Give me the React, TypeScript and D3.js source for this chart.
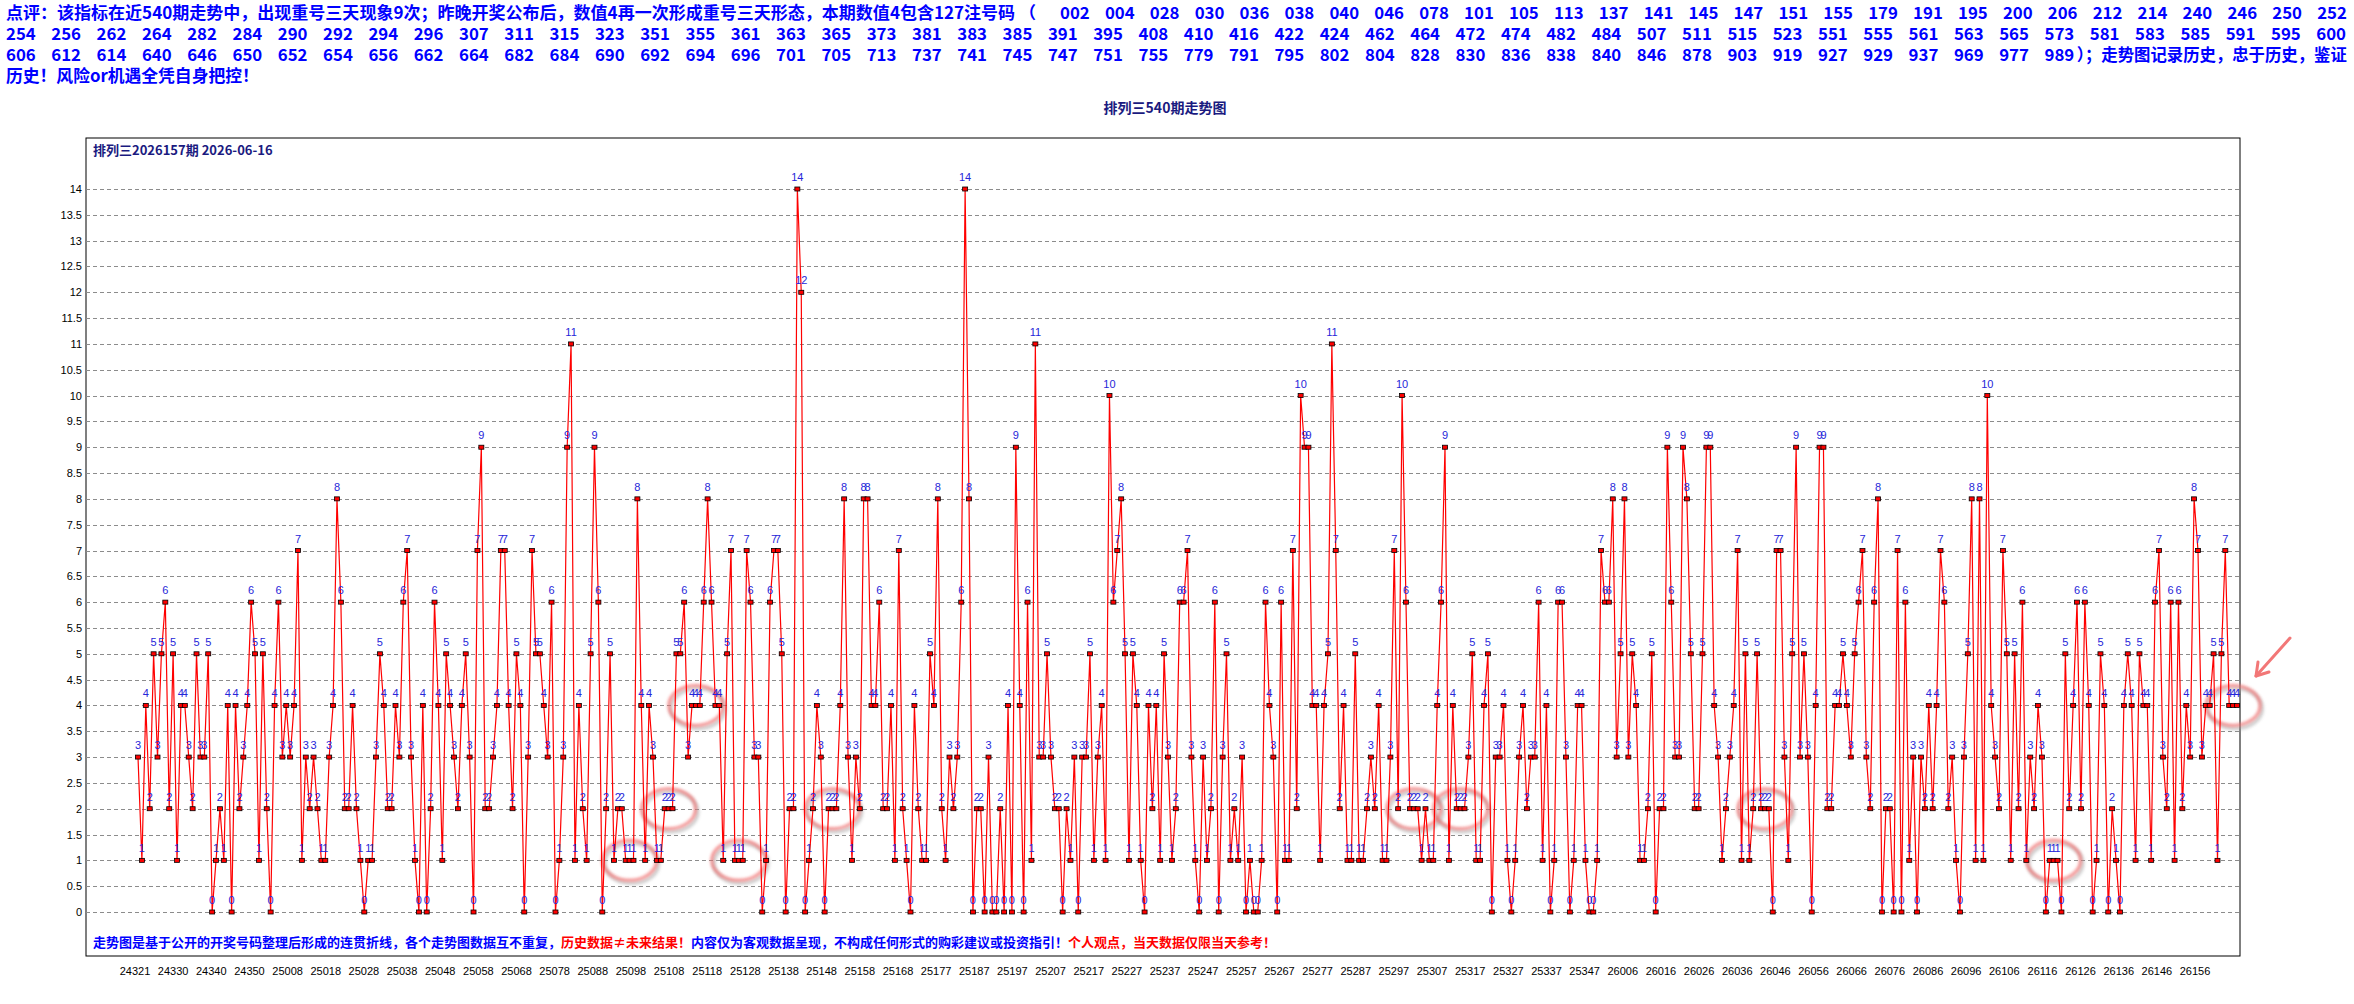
import React from 'react';
import * as d3 from 'd3';

const W = 2354;
const H = 1004;

// values, one per draw
const values: number[] = [
  3,1,4,2,5,3,5,6,2,5, 1,4,4,3,2,5,3,3,5,0, 1,2,1,4,0,4,2,3,4,6, 5,1,5,2,0,4,6,3,4,3, 4,7,1,
  3,2,3,2,1,1,3,4,8,6, 2,2,4,2,1,0,1,1,3,5, 4,2,2,4,3,6,7,3,1,0, 4,0,2,6,4,1,5,4,3,2, 4,5,3,0,7,9,
  2,2,3,4,7,7,4,2,5,4, 0,3,7,5,5,4,3,6,0,1, 3,9,11,1,4,2,1,5,9,6, 0,2,5,1,2,2,1,1,1,8, 4,1,4,3,1,
  1,2,2,2,5,5,6,3,4,4, 4,6,8,6,4,4,1,5,7,1, 1,1,7,6,3,3,0,1,6,7, 7,5,0,2,2,14,12,0,1,2, 4,3,0,2,2,
  2,4,8,3,1,3,2,8,8,4, 4,6,2,2,4,1,7,2,1,0, 4,2,1,1,5,4,8,2,1,3, 2,3,6,14,8,0,2,2,0,3, 0,0,2,0,4,
  0,9,4,0,6,1,11,3,3,5, 3,2,2,0,2,1,3,0,3,3, 5,1,3,4,1,10,6,7,8,5, 1,5,4,1,0,4,2,4,1,5, 3,1,2,6,6,
  7,3,1,0,3,1,2,6,0,3, 5,1,2,1,3,0,1,0,0,1, 6,4,3,0,6,1,1,7,2,10, 9,9,4,4,1,4,5,11,7,2, 4,1,1,5,1,
  1,2,3,2,4,1,1,3,7,2, 10,6,2,2,2,1,2,1,1,4, 6,9,1,4,2,2,2,3,5,1, 1,4,5,0,3,3,4,1,0,1, 3,4,2,3,
  3,6,1,4,0,1,6,6,3,0, 1,4,4,1,0,0,1,7,6,6, 8,3,5,8,3,5,4,1,1,2, 5,0,2,2,9,6,3,3,9,8, 5,2,2,5,9,
  9,4,3,1,2,3,4,7,1,5, 1,2,5,2,2,2,0,7,7,3, 1,5,9,3,5,3,0,4,9,9, 2,2,4,4,5,4,3,5,6,7, 3,2,6,8,0,
  2,2,0,7,0,6,1,3,0,3, 2,4,2,4,7,6,2,3,1,0, 3,5,8,1,8,1,10,4,3,2, 7,5,1,5,2,6,1,3,2,4, 3,0,1,1,1,
  0,5,2,4,6,2,6,4,0,1, 5,4,0,2,1,0,4,5,4,1, 5,4,4,1,6,7,3,2,6,1, 6,2,4,3,8,7,3,4,4,5, 1,5,7,4,4,4,
];

const xLabels = [
  '24321','24330','24340','24350','25008','25018','25028','25038','25048','25058',
  '25068','25078','25088','25098','25108','25118','25128','25138','25148','25158',
  '25168','25177','25187','25197','25207','25217','25227','25237','25247','25257',
  '25267','25277','25287','25297','25307','25317','25327','25337','25347','26006',
  '26016','26026','26036','26046','26056','26066','26076','26086','26096','26106',
  '26116','26126','26136','26146','26156',
];

const numbersRow1 = ['002','004','028','030','036','038','040','046','078','101','105','113','137','141','145','147','151','155','179','191','195','200','206','212','214','240','246','250','252'];
const numbersRow2 = ['254','256','262','264','282','284','290','292','294','296','307','311','315','323','351','355','361','363','365','373','381','383','385','391','395','408','410','416','422','424','462','464','472','474','482','484','507','511','515','523','551','555','561','563','565','573','581','583','585','591','595','600'];
const numbersRow3 = ['606','612','614','640','646','650','652','654','656','662','664','682','684','690','692','694','696','701','705','713','737','741','745','747','751','755','779','791','795','802','804','828','830','836','838','840','846','878','903','919','927','929','937','969','977','989'];

const intro = '点评：该指标在近540期走势中，出现重号三天现象9次；昨晚开奖公布后，数值4再一次形成重号三天形态，本期数值4包含127注号码 （';
const row3Tail = '）；走势图记录历史，忠于历史，鉴证';
const row4 = '历史！风险or机遇全凭自身把控！';

const title = '排列三540期走势图';
const subTitle = '排列三2026157期 2026-06-16';
const footer: [string, string][] = [
  ['走势图是基于公开的开奖号码整理后形成的连贯折线，各个走势图数据互不重复，', '#0000ff'],
  ['历史数据≠未来结果！', '#ff0000'],
  ['内容仅为客观数据呈现，不构成任何形式的购彩建议或投资指引！', '#0000ff'],
  ['个人观点，当天数据仅限当天参考！', '#ff0000'],
];

const frame = { left: 86, top: 138, right: 2240, bottom: 956 };

export default function App() {
  const x = d3.scaleLinear().domain([0, values.length - 1]).range([138, 2237]);
  const y = d3.scaleLinear().domain([0, 14]).range([912, 189]);
  const yTicks = d3.range(0, 14.01, 0.5);
  const xl = d3.scalePoint<string>().domain(xLabels).range([135, 2195]);

  const line = d3.line<number>().x((_, i) => x(i)).y(d => y(d));

  // runs of three equal values get a ring
  const triples: number[] = [];
  for (let i = 0; i + 2 < values.length; i++) {
    if (values[i] === values[i + 1] && values[i + 1] === values[i + 2]) triples.push(i + 1);
  }

  const headFont = { fontFamily: '"Noto Sans CJK SC", sans-serif', fontWeight: 700, fontSize: 16.8, fill: '#0000ff' };
  const pitch1 = 44.9;
  const pitch = 45.3;
  const rowY = [19, 40, 61, 82];

  return (
    <svg width={W} height={H} style={{ position: 'absolute', left: 0, top: 0, background: '#fff' }}>
      <defs>
        <filter id="soft" x="-30%" y="-30%" width="160%" height="160%">
          <feGaussianBlur stdDeviation="1.4" />
        </filter>
      </defs>
      <rect width={W} height={H} fill="#fff" />

      {/* header commentary */}
      <g {...headFont}>
        <text x={6} y={rowY[0]} textLength={1030} lengthAdjust="spacingAndGlyphs">{intro}</text>
        {numbersRow1.map((n, i) => <text key={'a' + i} x={1060 + i * pitch1} y={rowY[0]}>{n}</text>)}
        {numbersRow2.map((n, i) => <text key={'b' + i} x={6 + i * pitch} y={rowY[1]}>{n}</text>)}
        {numbersRow3.map((n, i) => <text key={'c' + i} x={6 + i * pitch} y={rowY[2]}>{n}</text>)}
        <text x={6 + numbersRow3.length * pitch - 13} y={rowY[2]} textLength={270} lengthAdjust="spacingAndGlyphs">{row3Tail}</text>
        <text x={6} y={rowY[3]}>{row4}</text>
      </g>

      <text x={1165} y={113} textAnchor="middle" fontFamily='"Noto Sans CJK SC", sans-serif' fontWeight={700} fontSize={14} fill="#1a1a80">{title}</text>

      {/* plot frame */}
      <rect x={frame.left} y={frame.top} width={frame.right - frame.left} height={frame.bottom - frame.top} fill="none" stroke="#000" strokeWidth={1} />
      <text x={93} y={155} fontFamily='"Noto Sans CJK SC", sans-serif' fontWeight={700} fontSize={13} fill="#1a1a80">{subTitle}</text>

      {/* grid + y axis */}
      {yTicks.map(t => (
        <g key={t}>
          <line x1={frame.left} x2={frame.right} y1={Math.round(y(t)) + 0.5} y2={Math.round(y(t)) + 0.5} stroke="#8c8c8c" strokeDasharray="4,3" strokeWidth={1} />
          <text x={82} y={y(t) + 4} textAnchor="end" fontFamily='"Liberation Sans", Arial, sans-serif' fontSize={11} fill="#000">{String(t)}</text>
        </g>
      ))}

      {/* x axis labels */}
      {xLabels.map(l => (
        <text key={l} x={xl(l)} y={975} textAnchor="middle" fontFamily='"Liberation Sans", Arial, sans-serif' fontSize={11} fill="#000">{l}</text>
      ))}

      {/* rings around three-in-a-row */}
      {triples.map(i => (
        <g key={'r' + i}>
          <ellipse cx={x(i) + 2} cy={y(values[i]) + 3} rx={27} ry={20} fill="none" stroke="#9a9a9a" strokeWidth={4} opacity={0.45} filter="url(#soft)" />
          <ellipse cx={x(i)} cy={y(values[i])} rx={27} ry={20} fill="none" stroke="#f26b6b" strokeWidth={3} opacity={0.75} filter="url(#soft)" />
        </g>
      ))}

      {/* series */}
      <path d={line(values) || ''} fill="none" stroke="#ff0000" strokeWidth={1.2} />
      {values.map((v, i) => (
        <rect key={'m' + i} x={x(i) - 2.5} y={y(v) - 2} width={5} height={4} fill="#ff0000" stroke="#000" strokeWidth={0.8} />
      ))}
      {values.map((v, i) => (
        <text key={'t' + i} x={x(i)} y={y(v) - 8} textAnchor="middle" fontFamily='"Liberation Sans", Arial, sans-serif' fontSize={11} fill="#2626d9">{v}</text>
      ))}

      {/* arrow to the latest ring */}
      <g stroke="#f06060" strokeWidth={3} fill="none" opacity={0.85} strokeLinecap="round">
        <path d="M2290,638 L2256,676" />
        <path d="M2256,676 L2258,662 M2256,676 L2269,672" />
      </g>

      {/* footer note */}
      <text x={93} y={947} fontFamily='"Noto Sans CJK SC", sans-serif' fontWeight={700} fontSize={13}>
        {footer.map(([s, c], i) => <tspan key={i} fill={c}>{s}</tspan>)}
      </text>
    </svg>
  );
}
